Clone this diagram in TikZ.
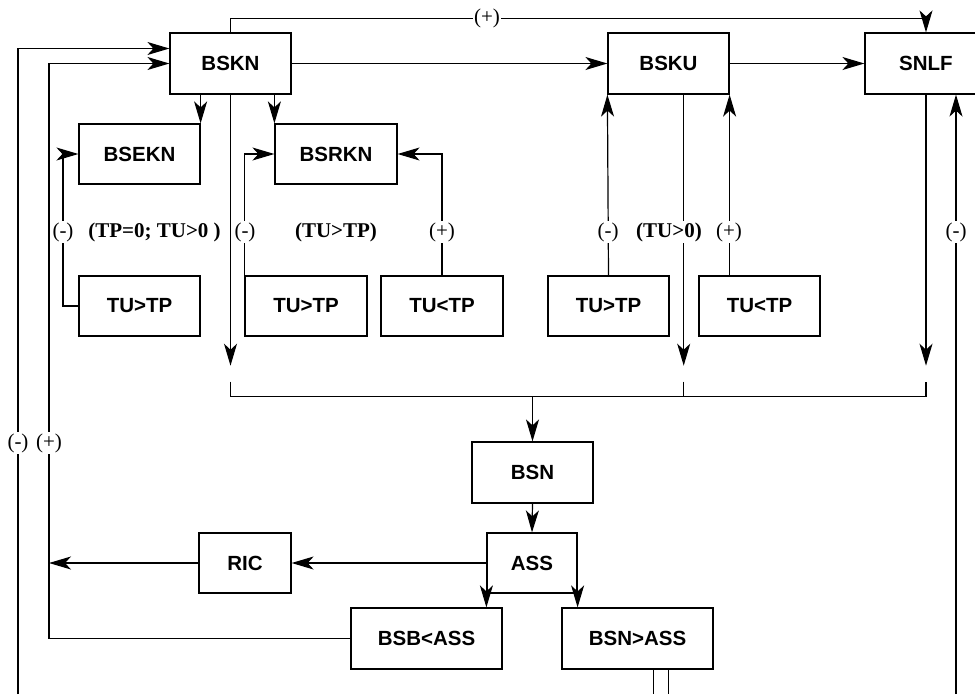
\documentclass[tikz,border=0pt]{standalone}
\usepackage{fontspec}
\setmainfont{Liberation Serif}
\setsansfont{Liberation Sans}
\usetikzlibrary{arrows.meta}
\begin{document}
\begin{tikzpicture}[x=1pt,y=-1pt,
  line width=1.2pt,
  arr/.style={-{Stealth[length=22pt,width=13pt,inset=6pt]}},
  box/.style={draw,line width=1.2pt,minimum width=121pt,minimum height=61pt,inner sep=0pt,
    font=\sffamily\bfseries\fontsize{20.5}{24}\selectfont},
  lbl/.style={fill=white,inner sep=1pt,font=\fontsize{21}{25}\selectfont},
  blbl/.style={fill=white,inner sep=1pt,font=\bfseries\fontsize{21}{25}\selectfont}]
\clip (0,0) rectangle (975,694);
\fill[white] (0,0) rectangle (975,694);
% boxes
\node[box] (BSKN) at (230.5,63.5) {BSKN};
\node[box] (BSKU) at (668.5,63.5) {BSKU};
\node[box,minimum width=122pt] (SNLF) at (926,63.5) {SNLF};
\node[box,minimum height=60pt] (BSEKN) at (139.5,154) {BSEKN};
\node[box,minimum height=60pt,minimum width=122pt] (BSRKN) at (336,154) {BSRKN};
\node[box,minimum height=60pt] (T1) at (139.5,306) {TU>TP};
\node[box,minimum height=60pt,minimum width=122pt] (T2) at (306,306) {TU>TP};
\node[box,minimum height=60pt,minimum width=122pt] (T3) at (442,306) {TU<TP};
\node[box,minimum height=60pt] (T4) at (608.5,306) {TU>TP};
\node[box,minimum height=60pt] (T5) at (759.5,306) {TU<TP};
\node[box] (BSN) at (532.5,472.5) {BSN};
\node[box,minimum width=90pt,minimum height=60pt] (ASS) at (532,563) {ASS};
\node[box,minimum width=92pt,minimum height=60pt] (RIC) at (245,563) {RIC};
\node[box,minimum width=151pt] (BSBA) at (426.5,638.5) {BSB<ASS};
\node[box,minimum width=151pt] (BSNA) at (637.5,638.5) {BSN>ASS};
% free-end coordinates
\coordinate (top) at (230.5,18.7);
\coordinate (e1) at (230.5,365.7);
\coordinate (e2) at (683.7,365.7);
\coordinate (e3) at (926,365.7);
\coordinate (s1) at (230.5,381.7);
\coordinate (s2) at (683.7,381.7);
\coordinate (s3) at (926,381.7);
\coordinate (bus) at (532.5,396.7);
\coordinate (L1) at (18,694);
\coordinate (L2) at (49,638.5);
\coordinate (R1) at (956,694);
\coordinate (b1) at (653.7,694);
\coordinate (b2) at (668.7,694);
% top feedback
\draw[arr] (BSKN.north) -- (top) -| (SNLF.north);
% main row
\draw[arr] (BSKN.east) -- (BSKU.west);
\draw[arr] (BSKU.east) -- (SNLF.west);
\draw[arr] (BSEKN.north east |- BSKN.south) -- (BSEKN.north east);
\draw[arr] (BSRKN.north west |- BSKN.south) -- (BSRKN.north west);
% downward flows to bus
\draw[arr] (BSKN.south) -- (e1);
\draw[arr] (BSKU.south -| e2) -- (e2);
\draw[arr] (SNLF.south) -- (e3);
\draw (s1) -- (s1 |- bus) -- (s3 |- bus) -- (s3);
\draw (s2) -- (s2 |- bus);
\draw[arr] (bus) -- (BSN.north);
% condition boxes
\draw[arr] (T1.west) -| (63,232) |- (BSEKN.west);
\draw[arr] (T2.north west) |- (BSRKN.west);
\draw[arr] (T3.north) |- (BSRKN.east);
\draw[arr] (T4.north) -- (BSKU.south west);
\draw[arr] (T5.north -| BSKU.south east) -- (BSKU.south east);
\draw[arr] (R1) -- (R1 |- SNLF.south);
% lower part
\draw[arr] (BSN.south) -- (ASS.north);
\draw[arr] (ASS.west) -- (RIC.east);
\draw[arr] (RIC.west) -- (RIC.west -| L2);
\draw[arr] (ASS.south west) -- (ASS.south west |- BSBA.north);
\draw[arr] (ASS.south east) -- (ASS.south east |- BSNA.north);
\draw[arr] (BSBA.west) -- (L2) -- (L2 |- BSKN.west) -- (BSKN.west);
\draw[arr] (L1) -- (18,48.5) -- ([yshift=15pt]BSKN.west);
\draw (BSNA.south -| b1) -- (b1);
\draw (BSNA.south -| b2) -- (b2);
% labels
\node[lbl] (p0) at (487,18.7) {(+)};
\node[lbl] (m1) at (63,232) {(-)};
\node[blbl] (c1) at (154.5,232) {(TP=0; TU>0 )};
\node[lbl] (m2) at (245,232) {(-)};
\node[blbl] (c2) at (336,232) {(TU>TP)};
\node[lbl] (p1) at (442,232) {(+)};
\node[lbl] (m3) at (608,232) {(-)};
\node[blbl] (c3) at (669,232) {(TU>0)};
\node[lbl] (p2) at (729,232) {(+)};
\node[lbl] (m4) at (956,232) {(-)};
\node[lbl] (m5) at (18,443) {(-)};
\node[lbl] (p3) at (49,443) {(+)};
\end{tikzpicture}
\end{document}
